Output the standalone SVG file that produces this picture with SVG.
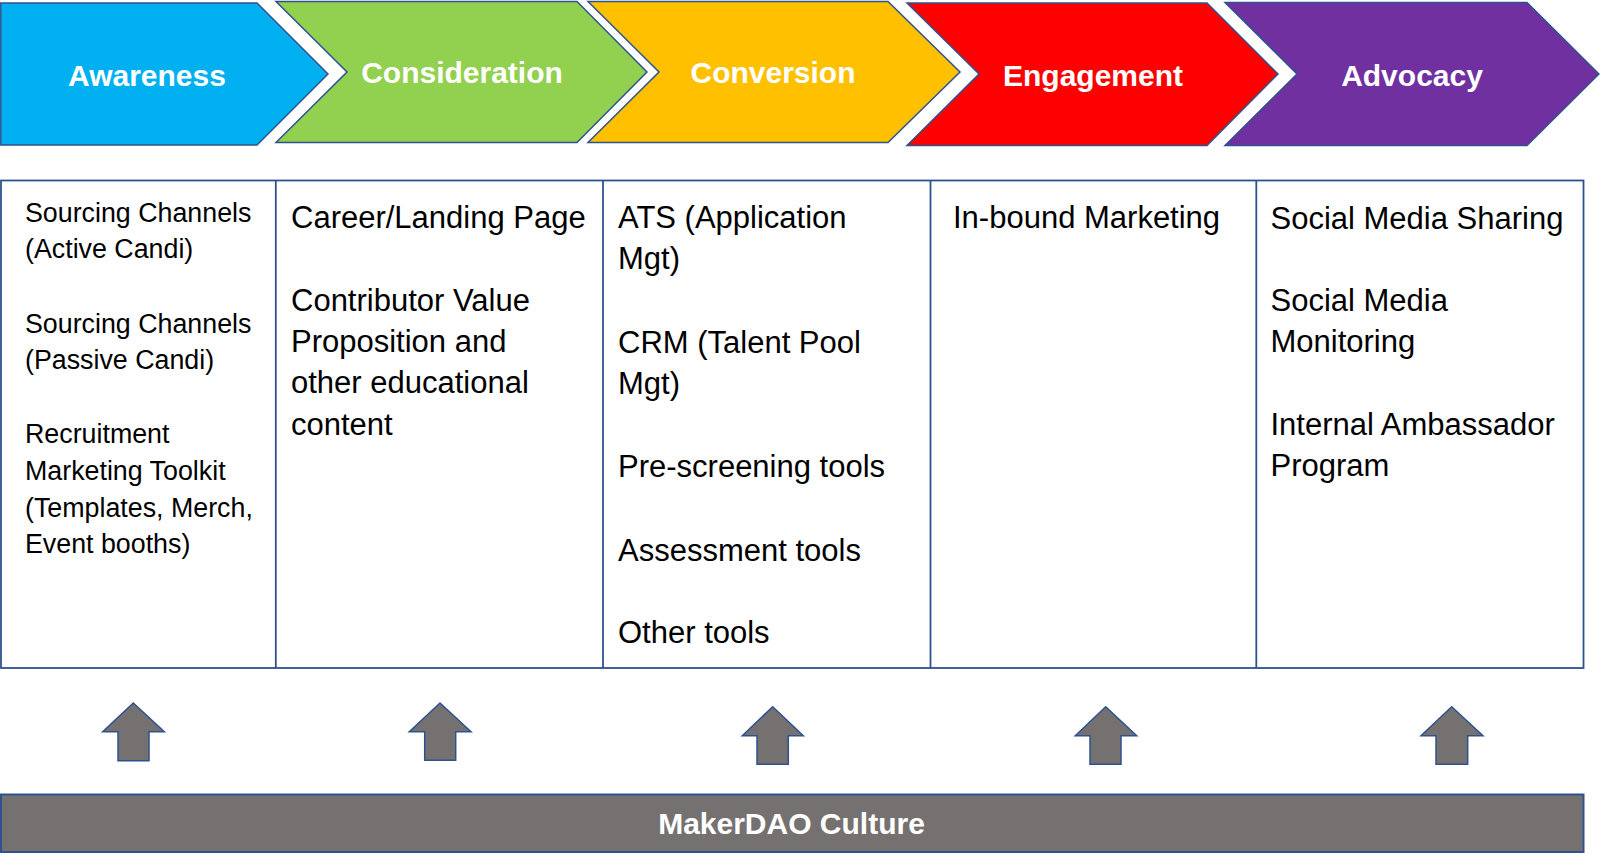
<svg xmlns="http://www.w3.org/2000/svg" width="1600" height="866" viewBox="0 0 1600 866">
  <style>
    .stage { stroke: #2F528F; stroke-width: 1.5; stroke-linejoin: miter; }
    .stage-label { font-family: "Liberation Sans", Arial, sans-serif; font-weight: bold; font-size: 30px; fill: #FFFFFF; text-anchor: middle; }
    .cell { fill: none; stroke: #2F528F; stroke-width: 1.8; }
    .item { font-family: "Liberation Sans", Arial, sans-serif; font-size: 31px; fill: #000000; }
    .item-sm { font-family: "Liberation Sans", Arial, sans-serif; font-size: 26.8px; fill: #000000; }
    .lift { fill: #767171; stroke: #2F528F; stroke-width: 1.5; }
    .base { fill: #767171; stroke: #2F528F; stroke-width: 2; }
    .base-label { font-family: "Liberation Sans", Arial, sans-serif; font-weight: bold; font-size: 30px; fill: #FFFFFF; text-anchor: middle; }
  </style>

  <rect width="1600" height="866" fill="#FFFFFF"/>

  <!-- Funnel stages (chevrons) -->
  <g id="stage-awareness">
    <polygon class="stage" fill="#00B0F0" points="0.8,3 257,3 328,74 257,145 0.8,145"/>
    <text class="stage-label" x="147" y="86">Awareness</text>
  </g>
  <g id="stage-consideration">
    <polygon class="stage" fill="#92D050" points="276,1.5 577,1.5 647,72 577,142.5 276,142.5 347,72"/>
    <text class="stage-label" x="462" y="83">Consideration</text>
  </g>
  <g id="stage-conversion">
    <polygon class="stage" fill="#FFC000" points="588,1.5 888,1.5 960,72 888,142.5 588,142.5 659,72"/>
    <text class="stage-label" x="773" y="83">Conversion</text>
  </g>
  <g id="stage-engagement">
    <polygon class="stage" fill="#FF0000" points="907,3 1207,3 1278,74 1207,145.5 907,145.5 979,74"/>
    <text class="stage-label" x="1093" y="86">Engagement</text>
  </g>
  <g id="stage-advocacy">
    <polygon class="stage" fill="#7030A0" points="1225,2.5 1527,2.5 1599,74 1527,145.5 1225,145.5 1297,74"/>
    <text class="stage-label" x="1412" y="86">Advocacy</text>
  </g>

  <!-- Tool table -->
  <g id="table-frame">
    <rect class="cell" x="1" y="180.5" width="1582.5" height="487.5"/>
    <line class="cell" x1="275.8" y1="180.5" x2="275.8" y2="668"/>
    <line class="cell" x1="603" y1="180.5" x2="603" y2="668"/>
    <line class="cell" x1="930.5" y1="180.5" x2="930.5" y2="668"/>
    <line class="cell" x1="1256.3" y1="180.5" x2="1256.3" y2="668"/>
  </g>

  <g id="cell-awareness">
    <text class="item-sm" x="25" y="221.7">Sourcing Channels</text>
    <text class="item-sm" x="25" y="258.3">(Active Candi)</text>
    <text class="item-sm" x="25" y="332.7">Sourcing Channels</text>
    <text class="item-sm" x="25" y="369.3">(Passive Candi)</text>
    <text class="item-sm" x="25" y="443.3">Recruitment</text>
    <text class="item-sm" x="25" y="480">Marketing Toolkit</text>
    <text class="item-sm" x="25" y="516.7">(Templates, Merch,</text>
    <text class="item-sm" x="25" y="553.3">Event booths)</text>
  </g>

  <g id="cell-consideration">
    <text class="item" x="291" y="228">Career/Landing Page</text>
    <text class="item" x="291" y="311">Contributor Value</text>
    <text class="item" x="291" y="352">Proposition and</text>
    <text class="item" x="291" y="393">other educational</text>
    <text class="item" x="291" y="434.5">content</text>
  </g>

  <g id="cell-conversion">
    <text class="item" x="618" y="228.3">ATS (Application</text>
    <text class="item" x="618" y="269">Mgt)</text>
    <text class="item" x="618" y="352.7">CRM (Talent Pool</text>
    <text class="item" x="618" y="393.5">Mgt)</text>
    <text class="item" x="618" y="476.5">Pre-screening tools</text>
    <text class="item" x="618" y="560.5">Assessment tools</text>
    <text class="item" x="618" y="643">Other tools</text>
  </g>

  <g id="cell-engagement">
    <text class="item" x="953" y="228.3">In-bound Marketing</text>
  </g>

  <g id="cell-advocacy">
    <text class="item" x="1270.5" y="228.5">Social Media Sharing</text>
    <text class="item" x="1270.5" y="311">Social Media</text>
    <text class="item" x="1270.5" y="352">Monitoring</text>
    <text class="item" x="1270.5" y="435">Internal Ambassador</text>
    <text class="item" x="1270.5" y="475.5">Program</text>
  </g>

  <!-- Upward block arrows from the culture base to each column -->
  <g id="connectors">
    <polygon class="lift" points="133.3,703 164.3,731.7 149,731.7 149,760.7 118,760.7 118,731.7 102.7,731.7"/>
    <polygon class="lift" points="440,703 471,731.7 455.7,731.7 455.7,760.3 424.7,760.3 424.7,731.7 409.3,731.7"/>
    <polygon class="lift" points="772.7,706.7 803.3,735.7 788.3,735.7 788.3,764.3 757,764.3 757,735.7 742.3,735.7"/>
    <polygon class="lift" points="1105.7,706.7 1136.7,735.7 1121,735.7 1121,764.3 1090,764.3 1090,735.7 1075.3,735.7"/>
    <polygon class="lift" points="1451.7,706.7 1483,735.7 1467.7,735.7 1467.7,764.3 1436,764.3 1436,735.7 1421,735.7"/>
  </g>

  <!-- Culture foundation bar -->
  <g id="base-culture">
    <rect class="base" x="1" y="794.5" width="1582.5" height="57.5"/>
    <text class="base-label" x="791.5" y="834">MakerDAO Culture</text>
  </g>
</svg>
